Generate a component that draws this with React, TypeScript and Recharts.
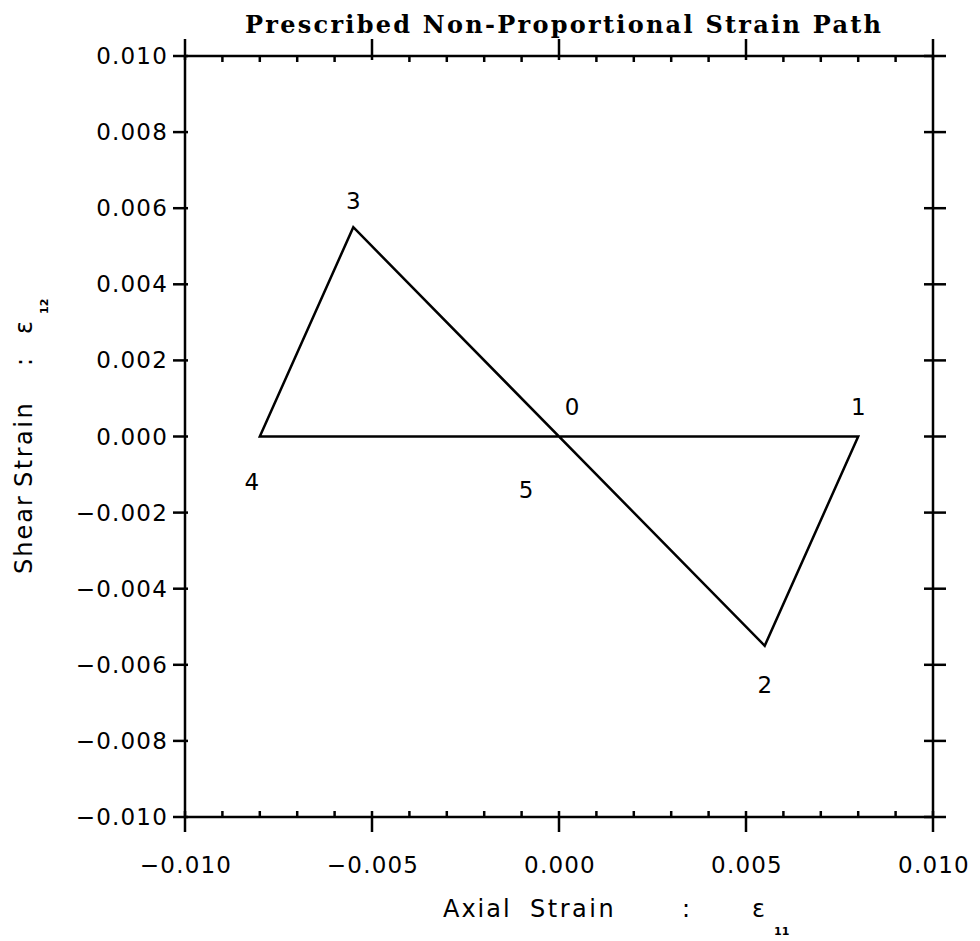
import { LineChart, Line, XAxis, YAxis, LabelList } from "recharts";

// strain path vertices, visited in order 0 -> 1 -> 2 -> 3 -> 4 -> 5
const pointLabels = ["0", "1", "2", "3", "4", "5"];
const axialStrain = [0.0, 0.008, 0.0055, -0.0055, -0.008, 0.0];
const shearStrain = [0.0, 0.0, -0.0055, 0.0055, 0.0, 0.0];

const xTicks = [
  -0.01, -0.009, -0.008, -0.007, -0.006, -0.005, -0.004, -0.003, -0.002, -0.001,
  0.0, 0.001, 0.002, 0.003, 0.004, 0.005, 0.006, 0.007, 0.008, 0.009, 0.01,
];
const yTicks = [-0.01, -0.008, -0.006, -0.004, -0.002, 0.0, 0.002, 0.004, 0.006, 0.008, 0.01];

const data = pointLabels.map((name, i) => ({ name, x: axialStrain[i], y: shearStrain[i] }));

const INK = "#000";
const SANS = "'DejaVu Sans', sans-serif";
const tickFont = { fontFamily: SANS, fontSize: 23, letterSpacing: 1.2, fill: INK };

const fmt = (v: number) => (Math.abs(v) < 1e-9 ? "0.000" : v.toFixed(3).replace("-", "\u2212"));
const isMajor = (v: number) => Math.round(v * 1000) % 5 === 0;

const BottomTick = ({ x, y, payload }: any) => {
  const major = isMajor(payload.value);
  return (
    <g>
      <line x1={x} x2={x} y1={y - 6} y2={major ? y + 15 : y} stroke={INK} strokeWidth={2.5} />
      {major && (
        <text x={x + 1} y={y + 56} textAnchor="middle" {...tickFont}>
          {fmt(payload.value)}
        </text>
      )}
    </g>
  );
};

const TopTick = ({ x, y, payload }: any) => {
  const major = isMajor(payload.value);
  return <line x1={x} x2={x} y1={major ? y - 17 : y} y2={major ? y + 4 : y + 6} stroke={INK} strokeWidth={2.5} />;
};

const LeftTick = ({ x, y, payload }: any) => (
  <g>
    <line x1={x - 12} x2={x + 3} y1={y} y2={y} stroke={INK} strokeWidth={2.5} />
    <text x={x - 17} y={y + 8} textAnchor="end" {...tickFont}>
      {fmt(payload.value)}
    </text>
  </g>
);

const RightTick = ({ x, y }: any) => (
  <line x1={x - 9} x2={x + 13} y1={y} y2={y} stroke={INK} strokeWidth={2.5} />
);

const ChartTitle = () => (
  <text
    x={563}
    y={33}
    textAnchor="middle"
    textLength={636}
    lengthAdjust="spacing"
    fontFamily="'DejaVu Serif', serif"
    fontWeight="bold"
    fontSize={24}
    fill={INK}
  >
    Prescribed Non-Proportional Strain Path
  </text>
);

const XTitle = () => (
  <g fontFamily={SANS} fill={INK} fontSize={24}>
    <text x={443} y={917} letterSpacing={2}>Axial</text>
    <text x={530} y={917} letterSpacing={2.5}>Strain</text>
    <text x={682} y={917}>:</text>
    <text x={752} y={917}>ε</text>
    <text x={774} y={935} fontSize={11} fontWeight="bold">
      11
    </text>
  </g>
);

const YTitle = () => (
  <g fontFamily={SANS} fill={INK} fontSize={24}>
    <text x={0} y={0} transform="translate(32 574) rotate(-90)" letterSpacing={2}>Shear</text>
    <text x={0} y={0} transform="translate(32 487) rotate(-90)" letterSpacing={2.5}>Strain</text>
    <text x={0} y={0} transform="translate(32 366) rotate(-90)">:</text>
    <text x={0} y={0} transform="translate(32 334) rotate(-90)">ε</text>
    <text x={0} y={0} transform="translate(48 314) rotate(-90)" fontSize={11} fontWeight="bold">
      12
    </text>
  </g>
);

const labelOffsets: Record<string, [number, number]> = {
  "0": [13, -30],
  "1": [0, -30],
  "2": [0, 39],
  "3": [0, -26],
  "4": [-8, 45],
  "5": [-33, 53],
};

const PointLabel = ({ x, y, value }: any) => {
  const [dx, dy] = labelOffsets[value] || [0, 0];
  return (
    <text x={x + dx} y={y + dy + 8} textAnchor="middle" fontFamily={SANS} fontSize={23} fill={INK}>
      {value}
    </text>
  );
};

export default function App() {
  return (
    <div style={{ position: "absolute", left: 0, top: 0, background: "#fff" }}>
      <LineChart width={980} height={941} data={data} margin={{ top: 36, right: 27, bottom: 64, left: 85 }}>
        <XAxis
          xAxisId="bottom"
          dataKey="x"
          type="number"
          domain={[-0.01, 0.01]}
          ticks={xTicks}
          interval={0}
          height={60}
          tickSize={0}
          tickMargin={0}
          tickLine={false}
          tick={<BottomTick />}
          axisLine={{ stroke: INK, strokeWidth: 2.5 }}
          allowDataOverflow
          label={<XTitle />}
        />
        <XAxis
          xAxisId="top"
          orientation="top"
          dataKey="x"
          type="number"
          domain={[-0.01, 0.01]}
          ticks={xTicks}
          interval={0}
          height={20}
          tickSize={0}
          tickMargin={0}
          tickLine={false}
          tick={<TopTick />}
          axisLine={{ stroke: INK, strokeWidth: 2.5 }}
          allowDataOverflow
          label={<ChartTitle />}
        />
        <YAxis
          yAxisId="left"
          dataKey="y"
          type="number"
          domain={[-0.01, 0.01]}
          ticks={yTicks}
          interval={0}
          width={100}
          tickSize={0}
          tickMargin={0}
          tickLine={false}
          tick={<LeftTick />}
          axisLine={{ stroke: INK, strokeWidth: 2.5 }}
          allowDataOverflow
          label={<YTitle />}
        />
        <YAxis
          yAxisId="right"
          orientation="right"
          dataKey="y"
          type="number"
          domain={[-0.01, 0.01]}
          ticks={yTicks}
          interval={0}
          width={20}
          tickSize={0}
          tickMargin={0}
          tickLine={false}
          tick={<RightTick />}
          axisLine={{ stroke: INK, strokeWidth: 2.5 }}
          allowDataOverflow
        />
        <Line
          xAxisId="bottom"
          yAxisId="left"
          dataKey="y"
          type="linear"
          stroke={INK}
          strokeWidth={2.5}
          dot={false}
          activeDot={false}
          isAnimationActive={false}
        >
          <LabelList dataKey="name" content={<PointLabel />} />
        </Line>
      </LineChart>
    </div>
  );
}
